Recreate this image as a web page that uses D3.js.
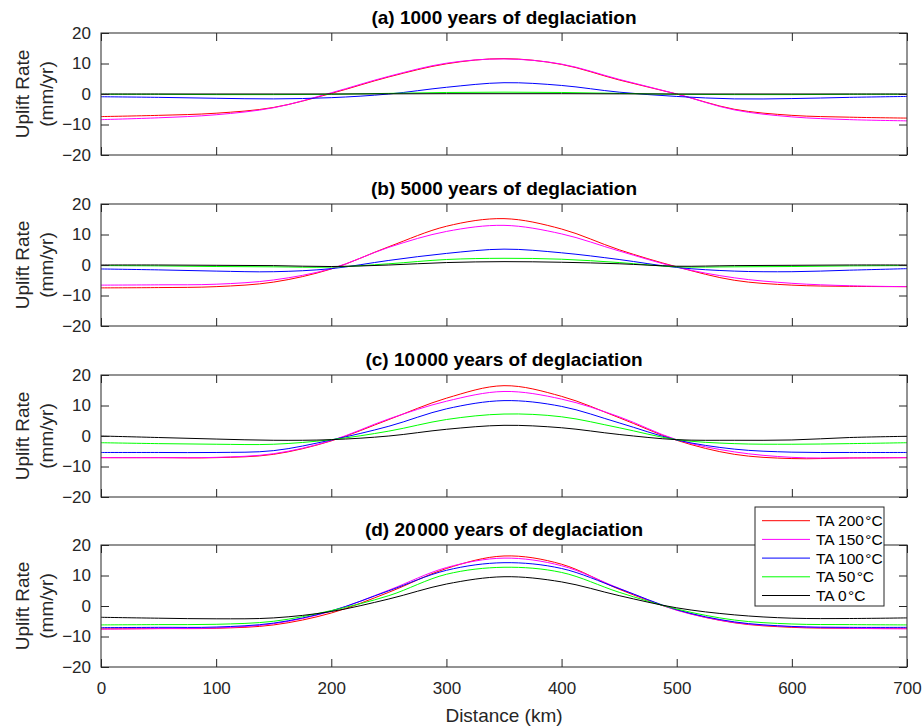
<!DOCTYPE html>
<meta charset="utf-8">
<style>
html{ background:#fff; }
body{ margin:0; }
text{ font-family:"Liberation Sans", Arial, Helvetica, sans-serif; fill:#262626; }
</style>
<body>
<script src="https://d3js.org/d3.v7.min.js"></script>
<script>

var width = 924,
    height = 727;

// distance along profile (km)
var distance = [0, 50, 100, 150, 200, 250, 300, 350, 400, 450, 500, 550, 600, 650, 700];

// (a) 1000 years
var a200 = [-7.4, -7.0, -6.3, -4.4, 0.2, 5.6, 9.9, 11.6, 9.7, 4.6, 0.0, -5.0, -7.0, -7.6, -7.9];
var a150 = [-8.4, -7.8, -6.8, -4.5, 0.4, 5.8, 10.1, 11.5, 9.8, 4.8, 0.0, -5.2, -7.5, -8.4, -8.8];
var a100 = [-0.9, -1.1, -1.4, -1.6, -1.2, 0.0, 2.2, 3.7, 2.8, 0.6, -0.8, -1.6, -1.5, -1.1, -0.8];
var a50  = [-0.1, -0.1, -0.2, -0.2, -0.1, 0.2, 0.5, 0.6, 0.5, 0.2, -0.1, -0.2, -0.2, -0.1, -0.1];
var a0   = [0.0, 0.0, 0.0, 0.0, 0.0, 0.05, 0.1, 0.1, 0.1, 0.05, 0.0, 0.0, 0.0, 0.0, 0.0];

// (b) 5000 years
var b200 = [-7.5, -7.4, -7.1, -5.6, -1.3, 6.0, 12.7, 15.2, 11.8, 5.0, -0.6, -5.0, -6.6, -7.0, -7.1];
var b150 = [-6.6, -6.5, -6.3, -4.9, -1.2, 5.8, 11.0, 13.0, 10.2, 4.6, -0.7, -4.2, -6.0, -6.8, -7.1];
var b100 = [-1.3, -1.6, -2.0, -2.2, -1.2, 1.5, 3.8, 5.2, 4.0, 1.8, -0.8, -2.0, -2.2, -1.7, -1.2];
var b50  = [-0.2, -0.3, -0.5, -0.6, -0.7, 0.4, 1.8, 2.2, 1.9, 0.8, -0.6, -0.6, -0.5, -0.3, -0.2];
var b0   = [0.0, 0.0, -0.1, -0.2, -0.5, 0.0, 0.8, 1.1, 0.9, 0.4, -0.4, -0.2, -0.1, 0.0, 0.0];

// (c) 10 000 years
var c200 = [-7.1, -7.1, -7.1, -6.0, -1.6, 5.4, 12.4, 16.5, 13.0, 6.0, -1.4, -6.0, -7.4, -7.2, -7.1];
var c150 = [-7.1, -7.1, -7.0, -5.8, -1.5, 5.6, 11.4, 14.6, 12.1, 6.3, -1.2, -5.2, -7.0, -7.2, -7.1];
var c100 = [-5.4, -5.4, -5.4, -4.8, -1.3, 3.2, 8.9, 11.6, 9.7, 4.3, -1.3, -4.3, -5.3, -5.4, -5.4];
var c50  = [-2.2, -2.5, -2.7, -2.7, -1.2, 1.6, 5.4, 7.2, 6.3, 2.7, -1.2, -2.5, -2.7, -2.5, -2.2];
var c0   = [0.0, -0.5, -1.0, -1.4, -1.2, 0.0, 2.2, 3.5, 2.7, 0.5, -1.2, -1.4, -1.3, -0.5, -0.1];

// (d) 20 000 years
var d200 = [-7.5, -7.4, -7.3, -6.2, -2.3, 4.5, 12.3, 16.4, 13.7, 5.5, -1.3, -5.5, -7.0, -7.3, -7.3];
var d150 = [-7.6, -7.4, -7.2, -5.8, -1.7, 5.2, 12.6, 15.7, 13.2, 5.8, -1.4, -5.4, -6.8, -7.3, -7.5];
var d100 = [-7.1, -7.0, -6.9, -5.6, -1.6, 5.0, 11.7, 14.2, 12.3, 5.7, -1.2, -5.2, -6.7, -7.0, -7.0];
var d50  = [-6.2, -6.1, -6.0, -5.0, -1.5, 3.4, 10.4, 12.7, 11.0, 4.5, -1.0, -4.6, -5.9, -6.1, -6.2];
var d0   = [-3.7, -4.0, -4.2, -3.9, -1.8, 2.3, 7.2, 9.6, 7.9, 3.4, -0.6, -2.9, -4.0, -4.1, -3.9];

var titles = ["(a) 1000 years of deglaciation",
              "(b) 5000 years of deglaciation",
              "(c) 10\u200a000 years of deglaciation",
              "(d) 20\u200a000 years of deglaciation"];
var legendLabels = ["TA 200\u200a\u00b0C", "TA 150\u200a\u00b0C", "TA 100\u200a\u00b0C", "TA 50\u200a\u00b0C", "TA 0\u200a\u00b0C"];
var xTicks = [0, 100, 200, 300, 400, 500, 600, 700];
var yTicks = [-20, -10, 0, 10, 20];

var panels = [
  [a200, a150, a100, a50, a0],
  [b200, b150, b100, b50, b0],
  [c200, c150, c100, c50, c0],
  [d200, d150, d100, d50, d0]
];
var colors = ["#ff0000", "#ff00ff", "#0000ff", "#00ff00", "#000000"];

var left = 101, right = 907, plotH = 122;
var tops = [33, 204, 375, 545];
var axisColor = "#262626";

var svg = d3.select("body").append("svg")
    .attr("width", width)
    .attr("height", height);

var x = d3.scaleLinear().domain([0, 700]).range([left, right]);

panels.forEach(function(series, i){
  var top = tops[i];
  var y = d3.scaleLinear().domain([-20, 20]).range([top + plotH, top]);
  var g = svg.append("g").attr("class", "panel");

  var line = d3.line()
      .x(function(d, j){ return x(distance[j]); })
      .y(function(d){ return y(d); })
      .curve(d3.curveCatmullRom.alpha(0.5));

  g.selectAll("path.series")
    .data(series)
    .enter().append("path")
    .attr("class", "series")
    .attr("fill", "none")
    .attr("stroke", function(d, k){ return colors[k]; })
    .attr("stroke-width", 1)
    .attr("d", line);

  // axes, ticks inside
  var bottomAxis = d3.axisBottom(x).tickValues(xTicks).tickSize(-8).tickPadding(15);
  if (i < 3) bottomAxis.tickFormat("");
  var gb = g.append("g").attr("transform", "translate(0," + (top + plotH) + ")").call(bottomAxis);
  var gt = g.append("g").attr("transform", "translate(0," + top + ")")
      .call(d3.axisTop(x).tickValues(xTicks).tickSize(-8).tickFormat(""));
  var gl = g.append("g").attr("transform", "translate(" + left + ",0)")
      .call(d3.axisLeft(y).tickValues(yTicks).tickSize(-8).tickPadding(10));
  var gr = g.append("g").attr("transform", "translate(" + right + ",0)")
      .call(d3.axisRight(y).tickValues(yTicks).tickSize(-8).tickFormat(""));

  [gb, gt, gl, gr].forEach(function(a){
    a.select(".domain").remove();
    a.selectAll(".tick line").attr("stroke", axisColor);
    a.selectAll(".tick text").attr("fill", axisColor).style("font-size", "17px")
      .style("font-family", '"Liberation Sans", Arial, sans-serif');
  });

  g.append("rect")
    .attr("x", left).attr("y", top)
    .attr("width", right - left).attr("height", plotH)
    .attr("fill", "none")
    .attr("stroke", axisColor)
    .attr("stroke-width", 1);

  g.append("text")
    .attr("x", (left + right) / 2)
    .attr("y", top - 9)
    .attr("text-anchor", "middle")
    .style("font-size", "19px")
    .style("font-weight", "bold")
    .style("fill", "#000")
    .text(titles[i]);

  var cy = top + plotH / 2;
  g.append("text")
    .attr("transform", "translate(29," + cy + ") rotate(-90)")
    .attr("text-anchor", "middle")
    .style("font-size", "19px")
    .text("Uplift Rate");
  g.append("text")
    .attr("transform", "translate(53," + cy + ") rotate(-90)")
    .attr("text-anchor", "middle")
    .style("font-size", "19px")
    .text("(mm/yr)");
});

svg.append("text")
  .attr("x", (left + right) / 2)
  .attr("y", 722)
  .attr("text-anchor", "middle")
  .style("font-size", "19px")
  .text("Distance (km)");

// legend
var lg = svg.append("g").attr("class", "legend");
lg.append("rect")
  .attr("x", 755).attr("y", 507)
  .attr("width", 129).attr("height", 99)
  .attr("fill", "#fff")
  .attr("stroke", axisColor)
  .attr("stroke-width", 1);

var item = lg.selectAll("g.item")
  .data(legendLabels)
  .enter().append("g")
  .attr("class", "item")
  .attr("transform", function(d, k){ return "translate(0," + (520.7 + k * 18.7) + ")"; });

item.append("line")
  .attr("x1", 762).attr("x2", 810)
  .attr("stroke", function(d, k){ return colors[k]; })
  .attr("stroke-width", 1);

item.append("text")
  .attr("x", 816)
  .attr("dy", "0.35em")
  .style("font-size", "15.5px")
  .style("fill", "#000")
  .text(function(d){ return d; });

</script>
</body>
